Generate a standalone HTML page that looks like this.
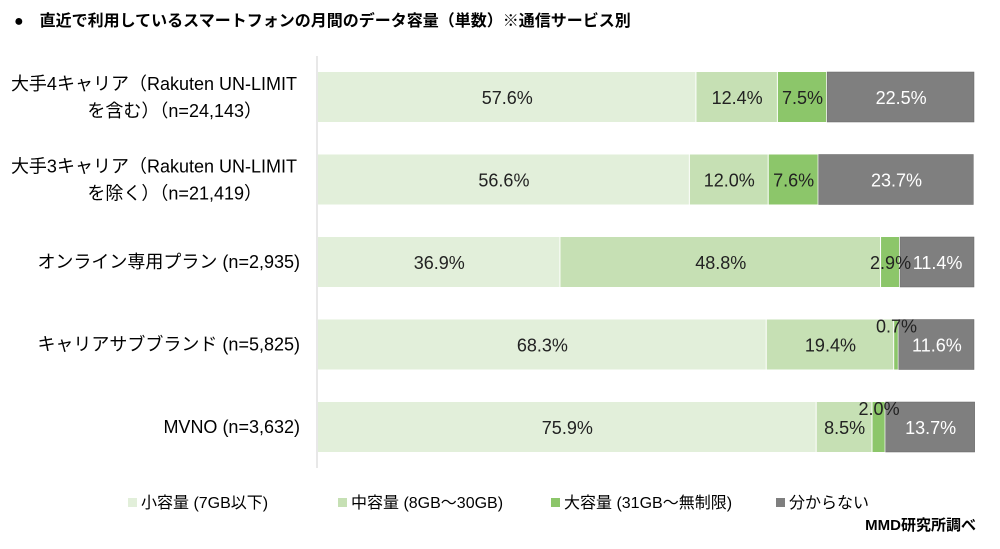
<!DOCTYPE html>
<html><head><meta charset="utf-8"><style>
body{margin:0;width:1000px;height:544px;background:#fff;overflow:hidden;font-family:"Liberation Sans","Noto Sans CJK JP",sans-serif;}
svg text{font-family:"Liberation Sans","Noto Sans CJK JP",sans-serif;}
</style></head><body>
<svg id="c" width="1000" height="544">
<text x="14" y="26" font-size="16" font-weight="bold" fill="#000">●　直近で利用しているスマートフォンの月間のデータ容量（単数）※通信サービス別</text>
<line x1="317" y1="56" x2="317" y2="468" stroke="#d0d0d0"/>
<text x="976" y="530" font-size="15" font-weight="bold" text-anchor="end">MMD研究所調べ</text>
<g id="bars"></g><g id="labels"></g><g id="legend"></g>
</svg>
<script>
const categories=[["大手4キャリア（Rakuten UN-LIMIT","を含む）（n=24,143）"],["大手3キャリア（Rakuten UN-LIMIT","を除く）（n=21,419）"],["オンライン専用プラン (n=2,935)"],["キャリアサブブランド (n=5,825)"],["MVNO (n=3,632)"]];
const small=[57.6,56.6,36.9,68.3,75.9];
const mid=[12.4,12.0,48.8,19.4,8.5];
const large=[7.5,7.6,2.9,0.7,2.0];
const unknown=[22.5,23.7,11.4,11.6,13.7];
const seriesNames=["小容量 (7GB以下)","中容量 (8GB～30GB)","大容量 (31GB～無制限)","分からない"];
const colors=["#e2efda","#c6e0b4","#8cc66a","#7f7f7f"];
const textColors=["#222","#222","#222","#fff"];
const NS="http://www.w3.org/2000/svg";
const x0=318,W=657,y0=72,step=82.5,bh=50;
const xs=v=>v/100*W;
const g=document.getElementById('bars');
const gl=document.getElementById('labels');
function mk(t,a){const e=document.createElementNS(NS,t);for(const k in a)e.setAttribute(k,a[k]);return e;}
const series=[small,mid,large,unknown];
categories.forEach((cat,i)=>{
  const y=y0+i*step;
  const lab=mk('text',{x:300,'font-size':18,'text-anchor':'end',fill:'#000'});
  
  
  if(cat.length===2){
    const t1=mk('tspan',{x:297,y:y+18});t1.textContent=cat[0];
    const t2=mk('tspan',{x:262,y:y+45});t2.textContent=cat[1];
    lab.appendChild(t1);lab.appendChild(t2);
  }else{lab.setAttribute('y',y+31);lab.textContent=cat[0];}
  g.appendChild(lab);
  let acc=0;
  series.forEach((s,j)=>{
    const v=s[i],x=x0+xs(acc),w=xs(v);
    const r=mk('rect',{x:x,y:y,width:Math.max(w-1,0.5),height:bh,fill:colors[j],stroke:j==3?'#666':'none','stroke-width':0.5});
    
    
    g.appendChild(r);
    const tiny=w<16;
    const t=mk('text',{x:x+w/2,y:tiny?y+13:y+32,'font-size':18,'text-anchor':'middle',fill:textColors[j]});
    
    
    t.textContent=v.toFixed(1)+'%';
    gl.appendChild(t);
    acc+=v;
  });
});
const lg=document.getElementById('legend');
const lx=[128,338,551,776];
seriesNames.forEach((n,j)=>{
  const r=mk('rect',{x:lx[j],y:498,width:9,height:9,fill:colors[j]});
  
  
  lg.appendChild(r);
  const t=mk('text',{x:lx[j]+13,y:508,'font-size':16,fill:'#000'});
  
  
  t.textContent=n;lg.appendChild(t);
});
</script>
</body></html>
